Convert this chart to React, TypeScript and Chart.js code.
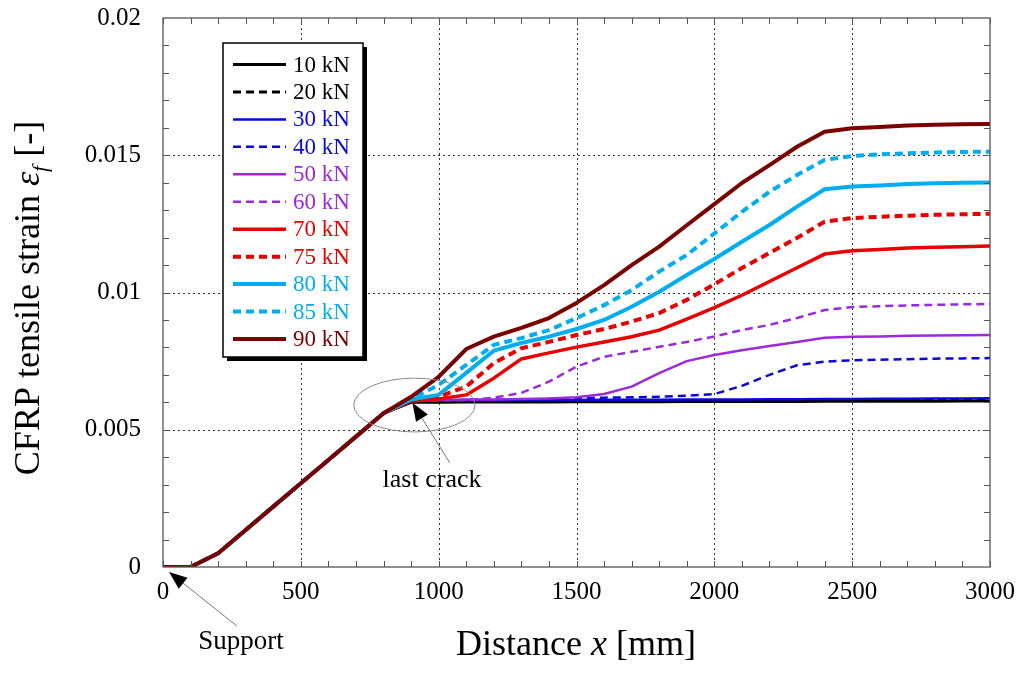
import React, { useEffect, useRef } from "react";
import Chart from "chart.js/auto";

const SERIF = "'Liberation Serif', 'Times New Roman', serif";

// distance along the beam [mm]
const distanceMm = [
  0, 100, 200, 300, 400, 500, 600, 700, 800, 900, 1000, 1100, 1200, 1300, 1400, 1500,
  1600, 1700, 1800, 1900, 2000, 2100, 2200, 2300, 2400, 2500, 2600, 2700, 2800, 2900, 3000,
];

// common part 0..800 mm, shared by all load levels
const rampStrain = [0, 0, 0.0005, 0.00135, 0.0022, 0.00305, 0.0039, 0.00475, 0.0056];

// 900..3000 mm
const strain10kN = [
  0.006, 0.006, 0.00601, 0.00601, 0.00601, 0.00601, 0.00602, 0.00602, 0.00602, 0.00602, 0.00603,
  0.00603, 0.00603, 0.00603, 0.00603, 0.00604, 0.00604, 0.00604, 0.00604, 0.00604, 0.00605, 0.00605,
];
const strain20kN = [
  0.00603, 0.00604, 0.00604, 0.00605, 0.00605, 0.00605, 0.00605, 0.00606, 0.00606, 0.00606, 0.00606,
  0.00607, 0.00607, 0.00607, 0.00607, 0.00608, 0.00608, 0.00608, 0.00608, 0.00609, 0.00609, 0.00609,
];
const strain30kN = [
  0.00605, 0.00606, 0.00607, 0.00607, 0.00608, 0.00608, 0.00608, 0.00609, 0.00609, 0.00609, 0.0061,
  0.0061, 0.0061, 0.00611, 0.00611, 0.00612, 0.00612, 0.00613, 0.00613, 0.00614, 0.00614, 0.00615,
];
const strain40kN = [
  0.00605, 0.00607, 0.00608, 0.0061, 0.0061, 0.00612, 0.00615, 0.00617, 0.00618, 0.0062, 0.00624,
  0.0063, 0.0066, 0.007, 0.00735, 0.00748, 0.00753, 0.00755, 0.00757, 0.00759, 0.0076, 0.00761,
];
const strain50kN = [
  0.00605, 0.00608, 0.0061, 0.0061, 0.00612, 0.00614, 0.00618, 0.0063, 0.00657, 0.00706, 0.0075,
  0.00772, 0.0079, 0.00805, 0.0082, 0.00835, 0.00839, 0.0084, 0.00842, 0.00843, 0.00844, 0.00845,
];
const strain60kN = [
  0.00605, 0.00607, 0.00608, 0.00617, 0.00634, 0.00675, 0.0073, 0.00766, 0.00784, 0.00802, 0.0082,
  0.0084, 0.00863, 0.00882, 0.00907, 0.00936, 0.00947, 0.0095, 0.00953, 0.00955, 0.00957, 0.00958,
];
const strain70kN = [
  0.00605, 0.00612, 0.00627, 0.00688, 0.00758, 0.0078, 0.00801, 0.0082, 0.00839, 0.00863, 0.00903,
  0.00945, 0.0099, 0.0104, 0.0109, 0.0114, 0.01152, 0.01157, 0.01162, 0.01165, 0.01167, 0.01169,
];
const strain75kN = [
  0.00608, 0.0062, 0.00657, 0.00743, 0.00797, 0.0082, 0.00845, 0.00867, 0.00894, 0.00925, 0.00973,
  0.0103, 0.01089, 0.01144, 0.01199, 0.01258, 0.01271, 0.01276, 0.0128, 0.01283, 0.01285, 0.01287,
];
const strain80kN = [
  0.0061, 0.00627, 0.00707, 0.00788, 0.00816, 0.00839, 0.00867, 0.009, 0.00948, 0.01003, 0.01064,
  0.01122, 0.01185, 0.01246, 0.01313, 0.01376, 0.01386, 0.0139, 0.01395, 0.01398, 0.014, 0.01401,
];
const strain85kN = [
  0.00612, 0.00663, 0.00736, 0.00809, 0.00834, 0.00863, 0.00907, 0.00954, 0.01009, 0.01076, 0.01137,
  0.01215, 0.01294, 0.01367, 0.01428, 0.01483, 0.01497, 0.01503, 0.01507, 0.0151, 0.01512, 0.01513,
];
const strain90kN = [
  0.0062, 0.00693, 0.00794, 0.00839, 0.00871, 0.00907, 0.00962, 0.01027, 0.011, 0.01167, 0.01245,
  0.01322, 0.01399, 0.01464, 0.01531, 0.01586, 0.01598, 0.01603, 0.01608, 0.01611, 0.01613, 0.01614,
];

const loadLabels = ["10 kN", "20 kN", "30 kN", "40 kN", "50 kN", "60 kN", "70 kN", "75 kN", "80 kN", "85 kN", "90 kN"];
const seriesTails = [
  strain10kN, strain20kN, strain30kN, strain40kN, strain50kN, strain60kN,
  strain70kN, strain75kN, strain80kN, strain85kN, strain90kN,
];
const lineColors = [
  "#000000", "#000000", "#0a0ad2", "#0a0ad2", "#9b2ad8", "#9b2ad8",
  "#e60000", "#e60000", "#00aeef", "#00aeef", "#7a0000",
];
const lineWidths = [3, 3, 2.5, 2.5, 2.5, 2.5, 3.5, 4, 4, 4, 4];
const isDashed = [false, true, false, true, false, true, false, true, false, true, false];

const xTickLabels = ["0", "500", "1000", "1500", "2000", "2500", "3000"];
const yTickLabels = ["0", "0.005", "0.01", "0.015", "0.02"];
const xGridValues = [500, 1000, 1500, 2000, 2500];
const yGridValues = [0.005, 0.01, 0.015];

const decorPlugin = {
  id: "decor",
  beforeDatasetsDraw(chart: any) {
    const { ctx, chartArea: a } = chart;
    const xs = chart.scales.x;
    const ys = chart.scales.y;
    ctx.save();
    ctx.strokeStyle = "#333";
    ctx.lineWidth = 1;
    ctx.setLineDash([2, 3]);
    xGridValues.forEach((v) => {
      const px = Math.round(xs.getPixelForValue(v)) + 0.5;
      ctx.beginPath();
      ctx.moveTo(px, a.top);
      ctx.lineTo(px, a.bottom);
      ctx.stroke();
    });
    yGridValues.forEach((v) => {
      const py = Math.round(ys.getPixelForValue(v)) + 0.5;
      ctx.beginPath();
      ctx.moveTo(a.left, py);
      ctx.lineTo(a.right, py);
      ctx.stroke();
    });
    ctx.restore();
  },
  afterDatasetsDraw(chart: any) {
    const { ctx, chartArea: a } = chart;
    const xs = chart.scales.x;
    const ys = chart.scales.y;
    ctx.save();

    // frame and inward ticks on all four sides
    ctx.strokeStyle = "#555";
    ctx.lineWidth = 1.3;
    ctx.setLineDash([]);
    ctx.strokeRect(a.left, a.top, a.right - a.left, a.bottom - a.top);
    ctx.lineWidth = 1;
    distanceMm.forEach((v) => {
      const px = Math.round(xs.getPixelForValue(v)) + 0.5;
      ctx.beginPath();
      ctx.moveTo(px, a.bottom);
      ctx.lineTo(px, a.bottom - 6);
      ctx.moveTo(px, a.top);
      ctx.lineTo(px, a.top + 6);
      ctx.stroke();
    });
    for (let k = 1; k < 20; k++) {
      const py = Math.round(ys.getPixelForValue(k * 0.001)) + 0.5;
      ctx.beginPath();
      ctx.moveTo(a.left, py);
      ctx.lineTo(a.left + 6, py);
      ctx.moveTo(a.right, py);
      ctx.lineTo(a.right - 6, py);
      ctx.stroke();
    }

    // legend box with shadow
    const lx = 223, ly = 43, lw = 140, lh = 314;
    ctx.fillStyle = "#000";
    ctx.fillRect(lx + 4, ly + 4, lw, lh);
    ctx.fillStyle = "#fff";
    ctx.fillRect(lx, ly, lw, lh);
    ctx.strokeStyle = "#000";
    ctx.lineWidth = 1.5;
    ctx.strokeRect(lx, ly, lw, lh);
    ctx.font = `23px ${SERIF}`;
    ctx.textBaseline = "middle";
    ctx.textAlign = "left";
    chart.data.datasets.forEach((ds: any, i: number) => {
      const cy = 64.5 + i * 27.45;
      ctx.strokeStyle = ds.borderColor;
      ctx.lineWidth = ds.borderWidth;
      ctx.setLineDash(ds.borderDash || []);
      ctx.beginPath();
      ctx.moveTo(233, cy);
      ctx.lineTo(286, cy);
      ctx.stroke();
      ctx.setLineDash([]);
      ctx.fillStyle = ds.borderColor;
      ctx.fillText(ds.label, 293, cy + 1);
    });

    // "last crack" annotation
    const ex = xs.getPixelForValue(912);
    const ey = ys.getPixelForValue(0.0059);
    const erx = xs.getPixelForValue(912 + 220) - ex;
    const ery = ey - ys.getPixelForValue(0.0059 + 0.00098);
    ctx.strokeStyle = "#8a8a8a";
    ctx.lineWidth = 1;
    ctx.beginPath();
    ctx.ellipse(ex, ey, erx, ery, 0, 0, Math.PI * 2);
    ctx.stroke();

    const arrow = (tx: number, ty: number, fx: number, fy: number) => {
      const ang = Math.atan2(ty - fy, tx - fx);
      const len = 18, half = 7;
      const bx = tx - len * Math.cos(ang);
      const by = ty - len * Math.sin(ang);
      ctx.strokeStyle = "#777";
      ctx.lineWidth = 1;
      ctx.beginPath();
      ctx.moveTo(fx, fy);
      ctx.lineTo(bx, by);
      ctx.stroke();
      ctx.fillStyle = "#000";
      ctx.beginPath();
      ctx.moveTo(tx, ty);
      ctx.lineTo(bx + half * Math.sin(ang), by - half * Math.cos(ang));
      ctx.lineTo(bx - half * Math.sin(ang), by + half * Math.cos(ang));
      ctx.closePath();
      ctx.fill();
    };
    arrow(
      xs.getPixelForValue(905), ys.getPixelForValue(0.00598),
      xs.getPixelForValue(1040), ys.getPixelForValue(0.0038)
    );
    ctx.fillStyle = "#000";
    ctx.textAlign = "center";
    ctx.textBaseline = "alphabetic";
    ctx.font = `26px ${SERIF}`;
    ctx.fillText("last crack", xs.getPixelForValue(976), ys.getPixelForValue(0.0029));

    // "Support" annotation (below the axis)
    arrow(
      xs.getPixelForValue(22), ys.getPixelForValue(-0.00018),
      xs.getPixelForValue(268), ys.getPixelForValue(-0.00215)
    );
    ctx.fillStyle = "#000";
    ctx.font = `27px ${SERIF}`;
    ctx.fillText("Support", xs.getPixelForValue(283), ys.getPixelForValue(-0.003));

    // axis titles
    const drawRich = (parts: { t: string; f: string; dy?: number }[], x: number, y: number) => {
      let total = 0;
      parts.forEach((p) => {
        ctx.font = p.f;
        total += ctx.measureText(p.t).width;
      });
      let cx = x - total / 2;
      ctx.textAlign = "left";
      parts.forEach((p) => {
        ctx.font = p.f;
        ctx.fillText(p.t, cx, y + (p.dy || 0));
        cx += ctx.measureText(p.t).width;
      });
    };
    ctx.fillStyle = "#000";
    drawRich(
      [
        { t: "Distance ", f: `36px ${SERIF}` },
        { t: "x", f: `italic 36px ${SERIF}` },
        { t: " [mm]", f: `36px ${SERIF}` },
      ],
      576, 655
    );
    ctx.save();
    ctx.translate(39, 298);
    ctx.rotate(-Math.PI / 2);
    drawRich(
      [
        { t: "CFRP tensile strain ", f: `36px ${SERIF}` },
        { t: "ε", f: `italic 36px ${SERIF}` },
        { t: "f", f: `italic 22px ${SERIF}`, dy: 8 },
        { t: " [-]", f: `36px ${SERIF}` },
      ],
      0, 0
    );
    ctx.restore();

    ctx.restore();
  },
};

const StrainChart: React.FC = () => {
  const canvasRef = useRef<HTMLCanvasElement>(null);
  const chartInstance = useRef<Chart | null>(null);

  useEffect(() => {
    document.body.style.margin = "0";
    if (!canvasRef.current) return;
    const ctx = canvasRef.current.getContext("2d");
    if (!ctx) return;
    if (chartInstance.current) chartInstance.current.destroy();

    const n = loadLabels.length;
    const datasets = loadLabels.map((label, i) => {
      const strain = [...rampStrain, ...seriesTails[i]];
      return {
        label,
        data: distanceMm.map((x, k) => ({ x, y: strain[k] })),
        borderColor: lineColors[i],
        backgroundColor: lineColors[i],
        borderWidth: lineWidths[i],
        borderDash: isDashed[i] ? [8, 5] : [],
        borderJoinStyle: "round",
        pointRadius: 0,
        fill: false,
        tension: 0,
        order: n - 1 - i, // higher loads drawn on top
      };
    });

    chartInstance.current = new Chart(ctx, {
      type: "line",
      data: { datasets },
      options: {
        animation: false,
        responsive: true,
        maintainAspectRatio: false,
        layout: { padding: { left: 0, right: 34, top: 18, bottom: 0 } },
        plugins: { legend: { display: false }, tooltip: { enabled: false } },
        scales: {
          x: {
            type: "linear",
            min: 0,
            max: 3000,
            grid: { display: false, drawTicks: false, tickLength: 0 },
            border: { display: false },
            ticks: {
              stepSize: 500,
              padding: 10,
              maxRotation: 0,
              color: "#000",
              font: { family: SERIF, size: 25 },
              callback: (_v: any, i: number) => xTickLabels[i],
            },
            afterFit: (s: any) => {
              s.height = 108;
              s.paddingLeft = 0;
              s.paddingRight = 0;
            },
          },
          y: {
            type: "linear",
            min: 0,
            max: 0.02,
            grid: { display: false, drawTicks: false, tickLength: 0 },
            border: { display: false },
            ticks: {
              stepSize: 0.005,
              padding: 22,
              color: "#000",
              font: { family: SERIF, size: 25 },
              callback: (_v: any, i: number) => yTickLabels[i],
            },
            afterFit: (s: any) => {
              s.width = 163;
              s.paddingTop = 0;
              s.paddingBottom = 0;
            },
          },
        },
      },
      plugins: [decorPlugin],
    } as any);

    return () => {
      if (chartInstance.current) {
        chartInstance.current.destroy();
        chartInstance.current = null;
      }
    };
  }, []);

  return (
    <div style={{ width: 1024, height: 675, position: "relative", background: "#fff" }}>
      <canvas ref={canvasRef} />
    </div>
  );
};

export default function App() {
  return <StrainChart />;
}
